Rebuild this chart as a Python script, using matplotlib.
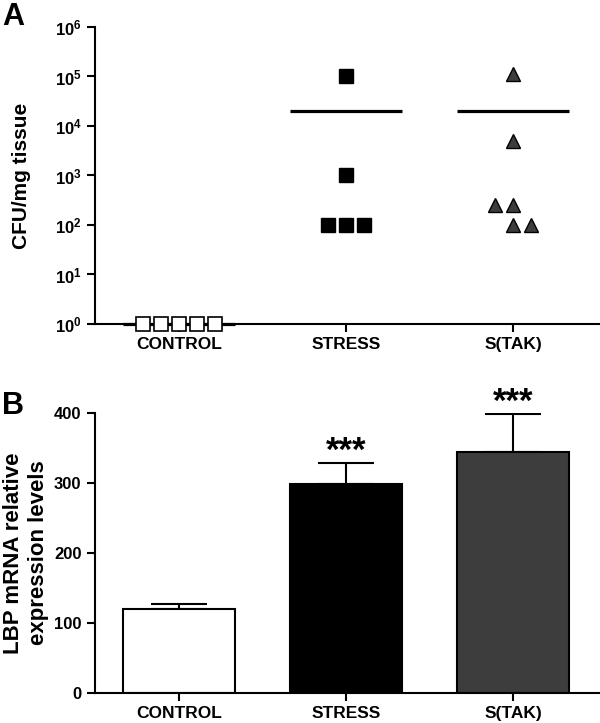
import numpy as np
import matplotlib
matplotlib.use('Agg')
import matplotlib.pyplot as plt

plt.rcParams['font.family'] = 'Liberation Sans'
plt.rcParams['font.weight'] = 'bold'
plt.rcParams['axes.labelweight'] = 'bold'
plt.rcParams['mathtext.fontset'] = 'custom'
plt.rcParams['mathtext.rm'] = 'Liberation Sans:bold'
plt.rcParams['mathtext.bf'] = 'Liberation Sans:bold'
plt.rcParams['mathtext.it'] = 'Liberation Sans:bold:italic'

groups = ['CONTROL', 'STRESS', 'S(TAK)']

# panel A: CFU / mg tissue, one point per animal
control_cfu = [1, 1, 1, 1, 1]
stress_cfu = [1e5, 1e3, 100, 100, 100]
stak_cfu = [1.1e5, 5e3, 250, 250, 100, 100]
cfu_mean = [1, 2e4, 2e4]
# horizontal slot of each point (scatter spreading)
control_slot = [-2, -1, 0, 1, 2]
stress_slot = [0, 0, -1, 0, 1]
stak_slot = [0, 0, -1, 0, 0, 1]
decades = [0, 1, 2, 3, 4, 5, 6]

# panel B: LBP mRNA
lbp_mean = [120, 298, 344]
lbp_err = [7, 30, 54]
lbp_stars = ['', '***', '***']
lbp_ticks = [0, 100, 200, 300, 400]


def style_axis(ax):
    ax.spines['top'].set_visible(False)
    ax.spines['right'].set_visible(False)
    ax.spines['left'].set_linewidth(1.5)
    ax.spines['bottom'].set_linewidth(1.5)
    ax.tick_params(direction='out', length=6, width=1.5, labelsize=12)
    ax.set_xlim(-0.503, 2.521)
    ax.set_xticks(range(len(groups)))
    ax.set_xticklabels(groups, fontsize=12.5, fontweight='bold')


def main():
    fig = plt.figure(figsize=(6, 7.23), dpi=100)

    # ---------- A ----------
    ax1 = fig.add_axes([0.158, 0.5519, 0.842, 0.4108])
    step = 0.108
    x = np.arange(len(groups))
    ax1.hlines(cfu_mean, x - 0.335, x + 0.335, color='k', lw=2.3,
               zorder=2, clip_on=False)
    ax1.plot(0 + np.array(control_slot) * step, control_cfu, 's', ms=9.5,
             mfc='white', mec='k', mew=1.2, zorder=3, clip_on=False)
    ax1.plot(1 + np.array(stress_slot) * step, stress_cfu, 's', ms=9.5,
             mfc='black', mec='k', mew=1, zorder=3, clip_on=False)
    ax1.plot(2 + np.array(stak_slot) * step, stak_cfu, '^', ms=9.5,
             mfc='#3d3d3d', mec='k', mew=1, zorder=3, clip_on=False)
    ax1.set_yscale('log')
    ax1.set_ylim(1, 1e6)
    ax1.set_yticks([10.0 ** d for d in decades])
    ax1.set_yticklabels([r'$\mathbf{10^{%d}}$' % d for d in decades])
    ax1.minorticks_off()
    style_axis(ax1)
    ax1.set_ylabel('CFU/mg tissue', fontsize=15)
    ax1.yaxis.set_label_coords(-0.127, 0.5)

    # ---------- B ----------
    ax2 = fig.add_axes([0.158, 0.0415, 0.842, 0.3873])
    ax2.bar(x, lbp_mean, width=0.67, color=['white', 'black', '#3d3d3d'],
            edgecolor='k', lw=1.5, zorder=2)
    ax2.errorbar(x, lbp_mean, yerr=[np.zeros(len(x)), lbp_err], fmt='none',
                 ecolor='k', elinewidth=1.5, capsize=20.5, capthick=1.5,
                 zorder=1)
    for i in range(len(x)):
        ax2.text(x[i], lbp_mean[i] + lbp_err[i] - 7, lbp_stars[i],
                 ha='center', va='bottom', fontsize=25, fontweight='bold')
    ax2.set_ylim(0, 400)
    ax2.set_yticks(lbp_ticks)
    style_axis(ax2)
    ax2.set_ylabel('LBP mRNA relative\nexpression levels', fontsize=16,
                   linespacing=1.3)
    ax2.yaxis.set_label_coords(-0.09, 0.5)

    fig.text(0.003, 0.997, 'A', fontsize=22, fontweight='bold', va='top')
    fig.text(0.003, 0.459, 'B', fontsize=22, fontweight='bold', va='top')

    fig.savefig('out.png', dpi=100)


if __name__ == '__main__':
    main()
